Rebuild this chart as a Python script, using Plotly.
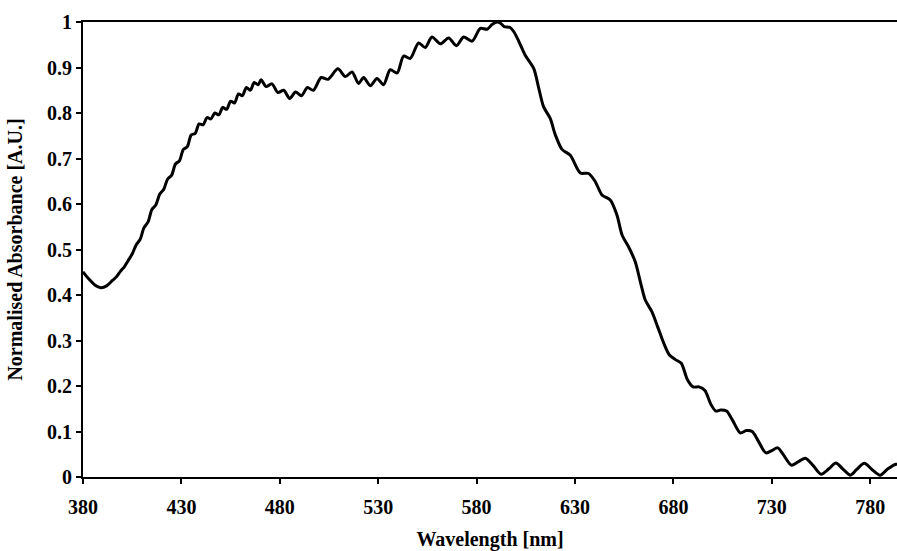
import plotly.graph_objects as go

# Wavelength (nm) and normalised absorbance
wavelength = [
    380, 383, 386, 389, 392, 395, 397, 399, 401, 403, 405, 407, 409, 411, 413,
    415, 417, 419, 421, 423, 425, 427, 429, 431, 433, 435, 437, 439, 441, 443,
    445, 447, 449, 451, 453, 455, 457, 459, 461, 463, 465, 467, 469, 470.5,
    473, 476, 479, 482, 485, 488, 491, 494, 497, 501, 504.5, 509.5, 513.3,
    516.7, 520, 522.6, 526, 529.4, 532.7, 536.1, 539.6, 542.9, 546.3, 550.5,
    553.9, 557.3, 561.6, 565.8, 569.7, 573.4, 577.7, 581.9, 585.3, 588, 590.4,
    592, 594, 597, 599, 601.5, 604.7, 609, 611.5, 614, 617.4, 620, 623.4,
    627.6, 632.7, 636.9, 640.3, 643.7, 647.9, 651.3, 653.9, 657.2, 660.6,
    663.2, 665.7, 669.1, 672, 675, 678, 681, 684, 687, 690, 693, 696, 699,
    701.5, 704, 707, 710, 714, 717, 720, 723, 727, 730, 733, 736, 740, 744,
    747, 751, 755, 759, 762.5, 766, 770, 773, 777, 781, 785, 789, 793, 794,
]
absorbance = [
    0.451, 0.435, 0.422, 0.416, 0.420, 0.432, 0.440, 0.452, 0.462, 0.476,
    0.490, 0.510, 0.522, 0.548, 0.560, 0.588, 0.598, 0.622, 0.632, 0.655,
    0.663, 0.688, 0.695, 0.720, 0.726, 0.752, 0.755, 0.776, 0.774, 0.790,
    0.787, 0.800, 0.796, 0.812, 0.808, 0.826, 0.822, 0.842, 0.838, 0.856,
    0.850, 0.867, 0.862, 0.873,
    0.858, 0.864, 0.845, 0.850, 0.832, 0.846, 0.838, 0.856, 0.850, 0.878,
    0.874, 0.897, 0.880,
    0.890, 0.865, 0.878, 0.860, 0.876, 0.862, 0.895, 0.888, 0.925, 0.920,
    0.954, 0.944, 0.967, 0.952, 0.965, 0.948, 0.967, 0.958, 0.986, 0.984,
    0.995, 1.000, 0.998, 0.990, 0.988, 0.978, 0.957, 0.927, 0.898, 0.856,
    0.814, 0.788, 0.752, 0.720, 0.707, 0.668, 0.667, 0.649, 0.620, 0.609,
    0.576, 0.532, 0.506, 0.473, 0.429, 0.389, 0.363, 0.330, 0.295, 0.268,
    0.258, 0.250, 0.215, 0.198, 0.198, 0.190, 0.160, 0.145, 0.147, 0.145,
    0.125, 0.097, 0.102, 0.100, 0.080, 0.053, 0.058, 0.064, 0.048, 0.026,
    0.035, 0.041, 0.025, 0.006, 0.018, 0.031, 0.018, 0.004, 0.016, 0.030,
    0.016, 0.004, 0.018, 0.028, 0.028,
]

x_ticks = [380, 430, 480, 530, 580, 630, 680, 730, 780]
y_ticks = [0, 0.1, 0.2, 0.3, 0.4, 0.5, 0.6, 0.7, 0.8, 0.9, 1]
y_tick_text = ["0", "0.1", "0.2", "0.3", "0.4", "0.5", "0.6", "0.7", "0.8", "0.9", "1"]

FONT = "Liberation Serif"

fig = go.Figure()
fig.add_trace(go.Scatter(
    x=wavelength, y=absorbance, mode="lines",
    line=dict(color="black", width=3, shape="spline", smoothing=0.8),
    showlegend=False, hoverinfo="skip", cliponaxis=False,
))

fig.update_layout(
    width=897, height=551,
    margin=dict(l=83, r=0, t=22, b=74, autoexpand=False),
    paper_bgcolor="white", plot_bgcolor="white",
    font=dict(family=FONT, size=20, color="black"),
    xaxis=dict(
        range=[380, 793.6], tickvals=x_ticks, ticks="outside", ticklen=5,
        tickwidth=1.5, tickcolor="black", showline=True, linecolor="black",
        linewidth=2, mirror=True, showgrid=False, zeroline=False,
        automargin=False, ticklabelstandoff=6,
        tickfont=dict(family=FONT, size=20, weight="bold"),
        title=dict(text="<b>Wavelength [nm]</b>", standoff=18,
                   font=dict(family=FONT, size=20)),
    ),
    yaxis=dict(
        range=[0, 1], tickvals=y_ticks, ticktext=y_tick_text, ticks="outside",
        ticklen=5, tickwidth=1.5, tickcolor="black", showline=True,
        linecolor="black", linewidth=2, showgrid=False, zeroline=False,
        automargin=False,
        tickfont=dict(family=FONT, size=20, weight="bold"),
        title=dict(text="<b>Normalised Absorbance [A.U.]</b>", standoff=19,
                   font=dict(family=FONT, size=20)),
    ),
)

fig.write_html(
    "out.html",
    config={"displayModeBar": False},
    post_script="document.body.style.margin='0';document.body.style.overflow='hidden';",
)
